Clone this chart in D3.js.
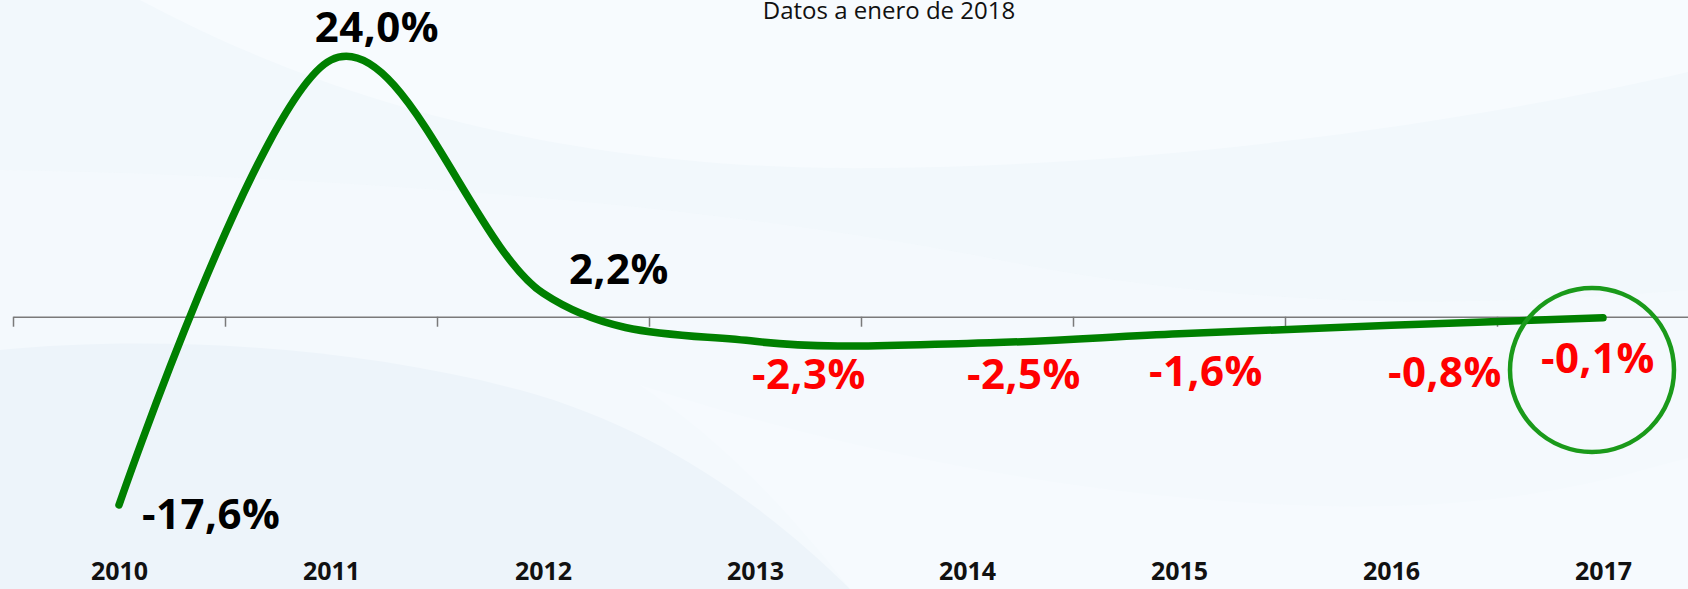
<!DOCTYPE html>
<html>
<head>
<meta charset="utf-8">
<script src="https://cdn.jsdelivr.net/npm/d3@7"></script>
<style>
  html, body { margin: 0; padding: 0; overflow: hidden; background: #f4f9fd; }
  text { font-family: "Open Sans", "DejaVu Sans", sans-serif; }
</style>
</head>
<body>
<svg id="chart"></svg>
<script>
const years = [2010, 2011, 2012, 2013, 2014, 2015, 2016, 2017];
const values = [-17.6, 24.0, 2.2, -2.3, -2.5, -1.6, -0.8, -0.1];
const subtitle = "Datos a enero de 2018";

const width = 1688,
  height = 589;

const svg = d3
  .select("#chart")
  .attr("width", width)
  .attr("height", height);

// soft background swooshes
svg.append("rect").attr("width", width).attr("height", height).attr("fill", "#f2f8fc");
svg
  .append("path")
  .attr("d", "M140,0 C420,150 700,170 880,168 C1200,165 1500,115 1688,72 L1688,0 Z")
  .attr("fill", "#f7fbfe");
svg
  .append("path")
  .attr("d", "M0,170 C300,175 700,200 1000,260 C1300,320 1550,300 1688,290 L1688,589 L0,589 Z")
  .attr("fill", "#f4f9fd")
  .attr("opacity", 0.8);
svg
  .append("path")
  .attr("d", "M0,350 C150,335 350,345 520,390 C650,425 760,500 850,589 L0,589 Z")
  .attr("fill", "#edf4fa");
svg
  .append("path")
  .attr("d", "M640,385 C900,470 1200,515 1420,505 C1560,498 1640,470 1688,458 L1688,589 L850,589 C780,500 720,440 640,385 Z")
  .attr("fill", "#f6fafe");

const x = d3.scaleLinear().domain([2009.5, 2017.5]).range([13, 1709]);
const y = d3.scaleLinear().domain([-17.6, 24]).range([505, 60]);

const fmt = d3
  .formatLocale({ decimal: ",", thousands: ".", grouping: [3], currency: ["", "€"], minus: "-" })
  .format(".1f");

// axis at zero with ticks between years
svg
  .append("g")
  .attr("transform", `translate(0,${y(0)})`)
  .call(
    d3
      .axisBottom(x)
      .tickValues(years.map((d) => d - 0.5))
      .tickFormat("")
      .tickSize(10)
      .tickSizeOuter(0)
  )
  .call((g) => g.selectAll("path, line").attr("stroke", "#7a7a7a").attr("stroke-width", 1.5));

// year labels along the bottom
svg
  .append("g")
  .attr("transform", "translate(0,561)")
  .call(d3.axisBottom(x).tickValues(years).tickFormat(d3.format("d")).tickSize(0))
  .call((g) => g.select(".domain").remove())
  .call((g) =>
    g
      .selectAll("text")
      .attr("y", 0)
      .attr("dy", "0.75em")
      .style("font-family", '"Open Sans", sans-serif')
      .style("font-size", "25px")
      .style("font-weight", "bold")
      .attr("fill", "#111")
  );

const line = d3
  .line()
  .x((d, i) => x(years[i]))
  .y((d) => y(d))
  .curve(d3.curveCardinal.tension(0));

svg
  .append("path")
  .datum(values)
  .attr("d", line)
  .attr("fill", "none")
  .attr("stroke", "#008000")
  .attr("stroke-width", 7.5)
  .attr("stroke-linecap", "round");

// value labels, hand placed around each point
const labelDx = [23, 46, 76, 54, 57, 27, 54, -5];
const labelY = [529, 42, 284, 389, 389, 386, 387, 373];
const labelAnchor = ["start", "middle", "middle", "middle", "middle", "middle", "middle", "middle"];

svg
  .append("g")
  .selectAll("text")
  .data(values)
  .enter()
  .append("text")
  .attr("x", (d, i) => x(years[i]) + labelDx[i])
  .attr("y", (d, i) => labelY[i])
  .attr("text-anchor", (d, i) => labelAnchor[i])
  .style("font-size", "42px")
  .style("letter-spacing", "0.5px")
  .style("font-weight", "bold")
  .attr("fill", (d, i) => (i < 3 ? "#000" : "#ff0000"))
  .text((d) => fmt(d) + "%");

// highlight circle around the last value
svg
  .append("ellipse")
  .attr("cx", x(2017) - 11)
  .attr("cy", 370)
  .attr("rx", 82)
  .attr("ry", 82)
  .attr("fill", "none")
  .attr("stroke", "#1a9a1a")
  .attr("stroke-width", 4.5);

svg
  .append("text")
  .attr("x", 889)
  .attr("y", 19)
  .attr("text-anchor", "middle")
  .style("font-size", "24px")
  .style("font-weight", 400)
  .attr("fill", "#111")
  .text(subtitle);
</script>
</body>
</html>
